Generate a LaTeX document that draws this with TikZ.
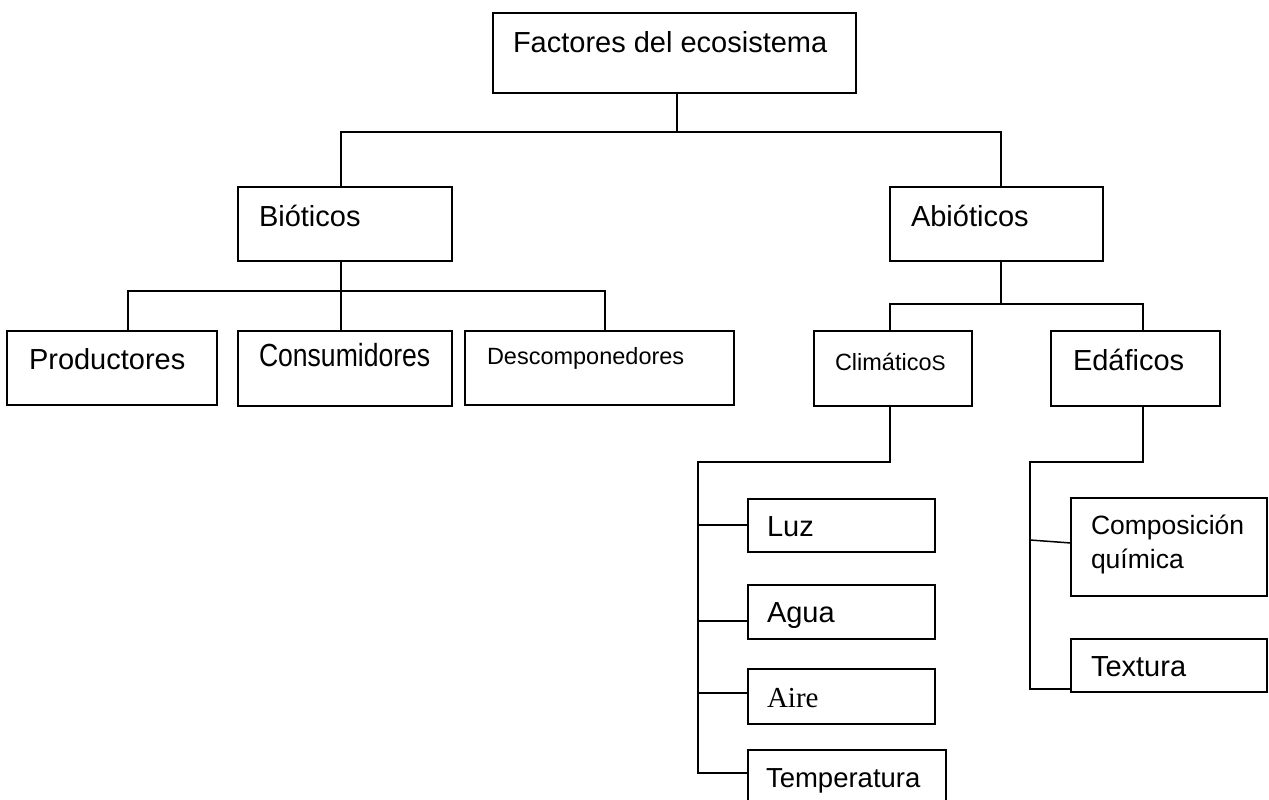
\documentclass[tikz,border=0pt]{standalone}
\usepackage{fontspec}
\setmainfont{Liberation Sans}
\newfontfamily\seriffont{Liberation Serif}
\usepackage{graphicx}
\begin{document}
\begin{tikzpicture}[x=1pt,y=-1pt,
  box/.style={draw=black, line width=1.5pt, rectangle, inner sep=0pt, outer sep=0pt},
  lbl/.style={anchor=base west, inner sep=0pt, outer sep=0pt, text=black},
  conn/.style={draw=black, line width=1.5pt}]
\useasboundingbox (0,0) rectangle (1269,800);
% boxes
\node[box, minimum width=363pt, minimum height=80pt] (fac) at (674.5,53) {};
\node[box, minimum width=214pt, minimum height=74pt] (bio) at (345,224) {};
\node[box, minimum width=213pt, minimum height=74pt] (abio) at (996.5,224) {};
\node[box, minimum width=210pt, minimum height=74pt] (prod) at (112,368) {};
\node[box, minimum width=214pt, minimum height=75pt] (cons) at (345,368.5) {};
\node[box, minimum width=269pt, minimum height=74pt] (desc) at (599.5,368) {};
\node[box, minimum width=158pt, minimum height=75pt] (clim) at (893,368.5) {};
\node[box, minimum width=169pt, minimum height=75pt] (edaf) at (1135.5,368.5) {};
\node[box, minimum width=187pt, minimum height=53pt] (luz) at (841.5,525.5) {};
\node[box, minimum width=187pt, minimum height=54pt] (agua) at (841.5,612) {};
\node[box, minimum width=187pt, minimum height=55pt] (aire) at (841.5,696.5) {};
\node[box, minimum width=198pt, minimum height=60pt] (temp) at (847,780) {};
\node[box, minimum width=196pt, minimum height=98pt] (comp) at (1169,547) {};
\node[box, minimum width=196pt, minimum height=53pt] (textu) at (1169,665.5) {};
% texts
\node[lbl, font=\fontsize{29}{34}\selectfont] (tfac) at (513,53) {Factores del ecosistema};
\node[lbl, font=\fontsize{29}{34}\selectfont] (tbio) at (259,226) {Bióticos};
\node[lbl, font=\fontsize{29}{34}\selectfont] (tabio) at (911,226) {Abióticos};
\node[lbl, font=\fontsize{29}{34}\selectfont] (tprod) at (29,369) {Productores};
\node[lbl, font=\fontsize{32}{38}\selectfont] (tcons) at (259,366) {\scalebox{0.83}[1]{Consumidores}};
\node[lbl, font=\fontsize{23.5}{28}\selectfont] (tdesc) at (487,364) {Descomponedores};
\node[lbl, font=\fontsize{23.5}{28}\selectfont] (tclim) at (835,370) {Climático{\fontsize{21}{24}\selectfont S}};
\node[lbl, font=\fontsize{29}{34}\selectfont] (tedaf) at (1073,370) {Edáficos};
\node[lbl, font=\fontsize{29}{34}\selectfont] (tluz) at (767,536) {Luz};
\node[lbl, font=\fontsize{29}{34}\selectfont] (tagua) at (767,622) {Agua};
\node[lbl, font=\fontsize{29}{34}\seriffont\selectfont] (taire) at (767,707) {Aire};
\node[lbl, font=\fontsize{27.5}{32}\selectfont] (ttemp) at (766,787) {Temperatura};
\node[lbl, font=\fontsize{26.5}{34}\selectfont, align=left] (tcomp) at (1091,568) {Composición\\química};
\node[lbl, font=\fontsize{29}{34}\selectfont] (ttextu) at (1091,676) {Textura};
% junction coordinates
\coordinate (a0) at (677,132);
\coordinate (a1) at (341,132);
\coordinate (a2) at (1001,132);
\coordinate (c1) at (128,291);
\coordinate (c2) at (341,291);
\coordinate (c3) at (605,291);
\coordinate (d1) at (890,304);
\coordinate (d2) at (1001,304);
\coordinate (d3) at (1143,304);
\coordinate (e1) at (890,462);
\coordinate (e2) at (698,462);
\coordinate (f1) at (698,525);
\coordinate (f2) at (698,621);
\coordinate (f3) at (698,693);
\coordinate (f4) at (698,773);
\coordinate (g1) at (1143,462);
\coordinate (g2) at (1030,462);
\coordinate (g3) at (1030,540);
\coordinate (g4) at (1030,689);
% connectors
\draw[conn] (fac.south -| a0) -- (a0);
\draw[conn] (bio.north -| a1) -- (a1) -- (a2) -- (abio.north -| a2);
\draw[conn] (bio.south -| c2) -- (cons.north -| c2);
\draw[conn] (prod.north -| c1) -- (c1) -- (c3) -- (desc.north -| c3);
\draw[conn] (abio.south -| d2) -- (d2);
\draw[conn] (clim.north -| d1) -- (d1) -- (d3) -- (edaf.north -| d3);
\draw[conn] (clim.south -| e1) -- (e1) -- (e2) -- (f4) -- (temp.west |- f4);
\draw[conn] (f1) -- (luz.west |- f1);
\draw[conn] (f2) -- (agua.west |- f2);
\draw[conn] (f3) -- (aire.west |- f3);
\draw[conn] (edaf.south -| g1) -- (g1) -- (g2) -- (g4) -- (textu.west |- g4);
\draw[conn] (g3) -- ([yshift=4pt]comp.west);
\end{tikzpicture}
\end{document}
